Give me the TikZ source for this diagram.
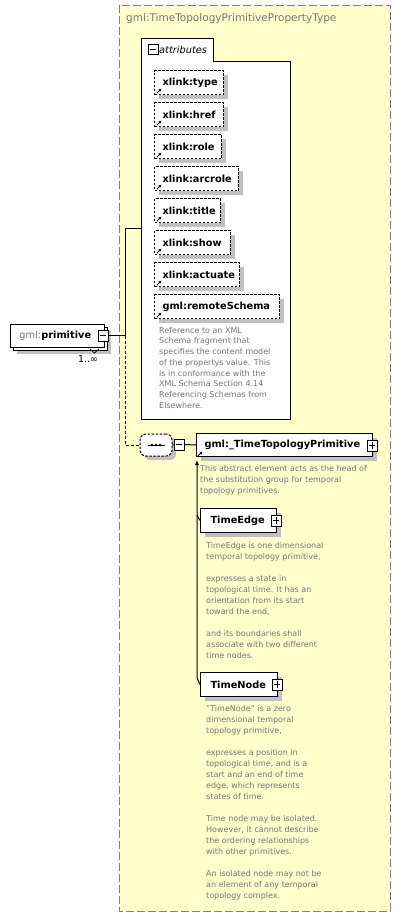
\documentclass[tikz,border=0pt]{standalone}
\usepackage{fontspec}
\setmainfont{DejaVu Sans}
\usetikzlibrary{shadows,arrows.meta}
\definecolor{ybg}{RGB}{255,255,204}
\definecolor{shg}{RGB}{192,192,192}
\definecolor{tg}{RGB}{118,118,118}
\definecolor{bordg}{RGB}{128,128,128}
\newcommand{\namefont}{\fontsize{9.8}{12}\selectfont\bfseries}
\newcommand{\descfont}{\fontsize{8}{11}\selectfont}
\begin{document}
\begin{tikzpicture}[x=1pt,y=-1pt,
  shad/.style={drop shadow={shadow xshift=4pt,shadow yshift=-4pt,fill=shg,opacity=1}},
  boxbase/.style={draw=black,fill=white,line width=1pt,inner sep=0pt,anchor=north west,font=\namefont,align=left,minimum height=24pt},
  box/.style={boxbase,shad},
  attr/.style={box,dash pattern=on 2.5pt off 1.5pt},
  desc/.style={anchor=north west,inner sep=0pt,align=left,font=\descfont,text=tg},
  mbox/.style={draw=black,fill=white,inner sep=0pt,minimum width=10pt,minimum height=10pt,line width=0.8pt,
    path picture={\draw[line width=0.8pt] ([xshift=2pt]path picture bounding box.west) -- ([xshift=-2pt]path picture bounding box.east);}},
  pbox/.style={mbox,
    path picture={\draw[line width=0.8pt] ([xshift=2pt]path picture bounding box.west) -- ([xshift=-2pt]path picture bounding box.east)
      ([yshift=2pt]path picture bounding box.south) -- ([yshift=-2pt]path picture bounding box.north);}},
  link/.style={-{Latex[length=3pt,width=3pt]},line width=1pt},
  conn/.style={line width=1pt},
  dconn/.style={line width=1pt,dash pattern=on 3pt off 2pt}
]
\useasboundingbox (0,0) rectangle (401,918);

% outer complex type box
\draw[draw=bordg,fill=ybg,line width=1pt,dash pattern=on 8pt off 3pt] (119,5) rectangle (390,911);
\node[anchor=west,inner sep=0pt,font=\fontsize{10.5}{12}\selectfont,text=tg] (title) at (126,19) {gml:TimeTopologyPrimitivePropertyType};

% attributes box
\draw[line width=1pt,fill=white] (141,38) -- (213,38) -- (213,61) -- (290,61) -- (290,419) -- (141,419) -- cycle;
\node[mbox] (attm) at (153,49) {};
\node[anchor=west,inner sep=0pt,font=\fontsize{9.8}{12}\selectfont\itshape] (attl) at (159,50) {attributes};
\coordinate (attin) at (141,228);

\node[attr,text width=69pt] (a1) at (154,70) {\hspace*{8pt}xlink:type};
\node[attr,text width=69pt] (a2) at (154,102) {\hspace*{8pt}xlink:href};
\node[attr,text width=67pt] (a3) at (154,134) {\hspace*{8pt}xlink:role};
\node[attr,text width=84pt] (a4) at (154,166) {\hspace*{8pt}xlink:arcrole};
\node[attr,text width=66pt] (a5) at (154,198) {\hspace*{8pt}xlink:title};
\node[attr,text width=76pt] (a6) at (154,230) {\hspace*{8pt}xlink:show};
\node[attr,text width=85pt] (a7) at (154,262) {\hspace*{8pt}xlink:actuate};
\node[attr,text width=125pt] (a8) at (154,294) {\hspace*{8pt}gml:remoteSchema};
\foreach \n in {a1,a2,a3,a4,a5,a6,a7,a8}
  \draw[link] ([shift={(3pt,2pt)}]\n.south west) -- ([shift={(7.5pt,6.5pt)}]\n.south west);

\node[desc,font=\fontsize{8}{10.7}\selectfont] (d1) at (159,327) {Reference to an XML\\Schema fragment that\\specifies the content model\\of the propertys value. This\\is in conformance with the\\XML Schema Section 4.14\\Referencing Schemas from\\Elsewhere.};

% element gml:primitive
\path[fill=shg] (17,331) rectangle (111,354);
\draw[line width=1pt,fill=white] (13,327) rectangle (107,350);
\node[boxbase,minimum height=23pt,text width=94pt] (prim) at (10,324) {\hspace*{9pt}{\mdseries\color{tg}gml:}primitive};
\draw[line width=0.7pt] (90,349) -- (94.5,353) -- (99,349);
\node[mbox,minimum height=11pt] (primm) at (103,335.5) {};
\node[inner sep=0pt,font=\fontsize{9.5}{11}\selectfont] (card) at (88,359) {1..∞};

% sequence
\node[draw=black,fill=white,line width=1pt,dash pattern=on 2.5pt off 1.5pt,rounded corners=6pt,minimum width=32pt,minimum height=22pt,inner sep=0pt,shad] (seq) at (156,445) {};
\draw[line width=1pt] ([xshift=-8.5pt]seq.center) -- ([xshift=8.5pt]seq.center);
\foreach \dx in {-4,0,4} \fill ([xshift=\dx pt]seq.center) circle (1.4pt);
\node[mbox,minimum height=11pt] (seqm) at (179,444.5) {};

% connectors from gml:primitive
\coordinate (j1) at (125,335.5);
\draw[conn] (primm.east) -- (j1) |- (attin);
\draw[dconn] (j1) |- (seq.west);
\draw[conn] (seq.east) -- (seqm.west);

% gml:_TimeTopologyPrimitive
\node[box,minimum height=23pt,text width=176pt] (ttp) at (196,433) {\hspace*{8pt}gml:\_TimeTopologyPrimitive};
\node[pbox,minimum height=11pt] (ttpp) at (372,445.5) {};
\draw[link] ([shift={(2pt,1pt)}]ttp.south west) -- ([shift={(6.5pt,5.5pt)}]ttp.south west);
\draw[conn] (seqm.east) -- (ttp.west);
\node[desc] (d2) at (200,465) {This abstract element acts as the head of\\the substitution group for temporal\\topology primitives.};

% substitution group members
\node[box,text width=76pt] (te) at (200,508) {\hspace*{10pt}TimeEdge};
\node[pbox,minimum height=11pt] (tep) at (276,520.5) {};
\node[desc] (d3) at (206,542) {TimeEdge is one dimensional\\temporal topology primitive,\\[11pt]expresses a state in\\topological time. It has an\\orientation from its start\\toward the end,\\[11pt]and its boundaries shall\\associate with two different\\time nodes.};

\node[box,text width=77pt] (tn) at (200,672) {\hspace*{10pt}TimeNode};
\node[pbox,minimum height=11pt] (tnp) at (277,684.5) {};
\node[desc] (d4) at (206,705) {"TimeNode" is a zero\\dimensional temporal\\topology primitive,\\[11pt]expresses a position in\\topological time, and is a\\start and an end of time\\edge, which represents\\states of time.\\[11pt]Time node may be isolated.\\However, it cannot describe\\the ordering relationships\\with other primitives.\\[11pt]An isolated node may not be\\an element of any temporal\\topology complex.};

\coordinate (sbot) at (197,678);
\coordinate (ste) at (197,515);
\draw[conn,-{Latex[length=5pt,width=4pt]},shorten >=3pt] (tn.west) -- (sbot) -- (sbot |- ttp.south);
\draw[conn] (te.west) -- (ste);
\end{tikzpicture}
\end{document}
